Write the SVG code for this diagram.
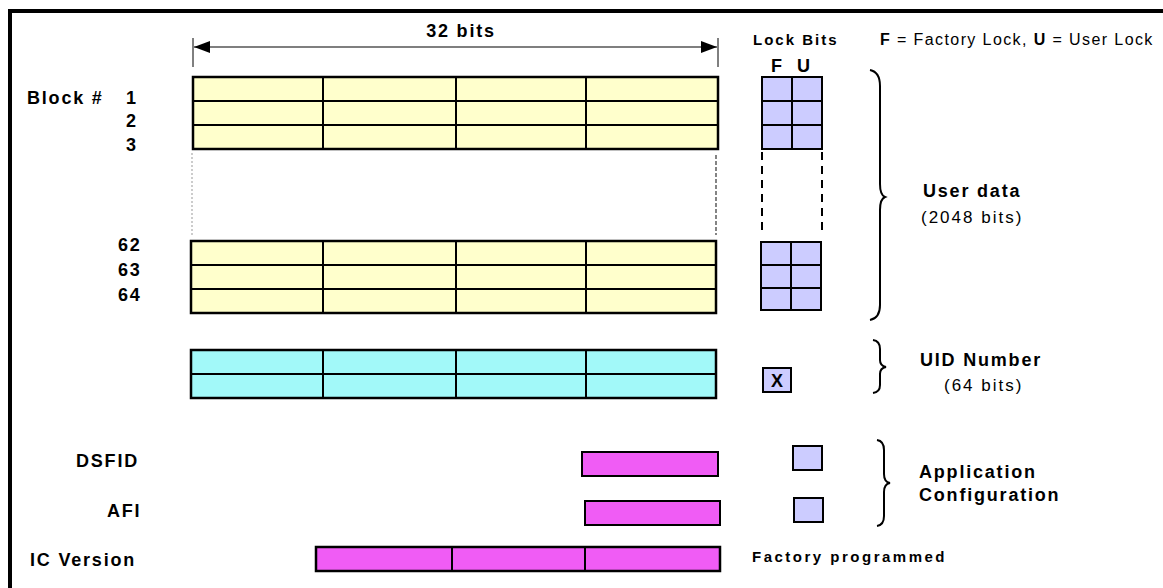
<svg xmlns="http://www.w3.org/2000/svg" width="1163" height="588" viewBox="0 0 1163 588">
<style>
text{font-family:"Liberation Sans",Arial,sans-serif;fill:#000}
.b{font-weight:bold;font-size:18px;letter-spacing:1.8px}
.bs{font-weight:bold;font-size:15px;letter-spacing:2px}
.n{font-size:17px;letter-spacing:2px}
.leg{font-size:16px;letter-spacing:1.4px}
.cell{stroke:#000;stroke-width:2}
.out{fill:none;stroke:#000;stroke-width:2.5}
.y{fill:#FFFFCC}
.c{fill:#A2F9F9}
.p{fill:#F05CF5}
.l{fill:#CCCCFF}
.brace{fill:none;stroke:#000;stroke-width:2}
.dash{stroke:#000;stroke-width:2;stroke-dasharray:8 6}
</style>
<defs>
<marker id="ah" viewBox="0 0 16 12" refX="16" refY="6" markerWidth="16" markerHeight="12" markerUnits="userSpaceOnUse" orient="auto-start-reverse">
<path d="M0,0 L16,6 L0,12 Z" fill="#000"/>
</marker>
</defs>
<rect width="1163" height="588" fill="#fff"/>
<g id="frame">
<line x1="10" y1="9" x2="10" y2="588" stroke="#000" stroke-width="4"/>
<line x1="8" y1="11" x2="1163" y2="11" stroke="#000" stroke-width="4"/>
</g>
<g id="connectors">
<line x1="193" y1="38" x2="193" y2="67" stroke="#000" stroke-width="1"/>
<line x1="718" y1="38" x2="718" y2="67" stroke="#000" stroke-width="1"/>
<line x1="194" y1="47" x2="717" y2="47" stroke="#000" stroke-width="1.2" marker-start="url(#ah)" marker-end="url(#ah)"/>
<line x1="192" y1="153" x2="192" y2="235" stroke="#999" stroke-width="1" stroke-dasharray="2 2"/>
<line x1="716" y1="155" x2="716" y2="235" stroke="#333" stroke-width="1.2" stroke-dasharray="4 2"/>
<line class="dash" x1="762" y1="152" x2="762" y2="232"/>
<line class="dash" x1="822" y1="152" x2="822" y2="232"/>
</g>
<g id="width-label"><text class="b" x="461" y="37" text-anchor="middle">32 bits</text></g>
<g id="lock-title"><text class="bs" x="753" y="45">Lock Bits</text></g>
<g id="legend"><text class="leg" x="880" y="45"><tspan font-weight="bold">F</tspan> = Factory Lock, <tspan font-weight="bold">U</tspan> = User Lock</text></g>
<g id="fu-labels"><text class="b" x="771" y="72">F</text><text class="b" x="797" y="72">U</text></g>
<g id="block-labels">
<text class="b" x="27" y="104">Block #</text>
<text class="b" x="126" y="104">1</text>
<text class="b" x="126" y="127">2</text>
<text class="b" x="126" y="151">3</text>
<text class="b" x="118" y="251">62</text>
<text class="b" x="118" y="276">63</text>
<text class="b" x="118" y="301">64</text>
</g>
<g id="user-blocks-top">
<g class="cell y">
<rect x="193" y="77" width="130" height="24"/><rect x="323" y="77" width="133" height="24"/><rect x="456" y="77" width="130" height="24"/><rect x="586" y="77" width="132" height="24"/>
<rect x="193" y="101" width="130" height="24"/><rect x="323" y="101" width="133" height="24"/><rect x="456" y="101" width="130" height="24"/><rect x="586" y="101" width="132" height="24"/>
<rect x="193" y="125" width="130" height="24"/><rect x="323" y="125" width="133" height="24"/><rect x="456" y="125" width="130" height="24"/><rect x="586" y="125" width="132" height="24"/>
</g>
<rect class="out" x="193" y="77" width="525" height="72"/>
</g>
<g id="user-blocks-bottom">
<g class="cell y">
<rect x="191" y="241" width="132" height="24"/><rect x="323" y="241" width="133" height="24"/><rect x="456" y="241" width="130" height="24"/><rect x="586" y="241" width="130" height="24"/>
<rect x="191" y="265" width="132" height="24"/><rect x="323" y="265" width="133" height="24"/><rect x="456" y="265" width="130" height="24"/><rect x="586" y="265" width="130" height="24"/>
<rect x="191" y="289" width="132" height="24"/><rect x="323" y="289" width="133" height="24"/><rect x="456" y="289" width="130" height="24"/><rect x="586" y="289" width="130" height="24"/>
</g>
<rect class="out" x="191" y="241" width="525" height="72"/>
</g>
<g id="uid-blocks">
<g class="cell c">
<rect x="191" y="350" width="132" height="24"/><rect x="323" y="350" width="133" height="24"/><rect x="456" y="350" width="130" height="24"/><rect x="586" y="350" width="130" height="24"/>
<rect x="191" y="374" width="132" height="24"/><rect x="323" y="374" width="133" height="24"/><rect x="456" y="374" width="130" height="24"/><rect x="586" y="374" width="130" height="24"/>
</g>
<rect class="out" x="191" y="350" width="525" height="48"/>
</g>
<g id="lock-top">
<g class="cell l">
<rect x="762" y="77" width="30" height="24"/><rect x="792" y="77" width="30" height="24"/>
<rect x="762" y="101" width="30" height="24"/><rect x="792" y="101" width="30" height="24"/>
<rect x="762" y="125" width="30" height="24"/><rect x="792" y="125" width="30" height="24"/>
</g>
</g>
<g id="lock-bottom">
<g class="cell l">
<rect x="761" y="242" width="30" height="23"/><rect x="791" y="242" width="30" height="23"/>
<rect x="761" y="265" width="30" height="23"/><rect x="791" y="265" width="30" height="23"/>
<rect x="761" y="288" width="30" height="22"/><rect x="791" y="288" width="30" height="22"/>
</g>
</g>
<g id="uid-lock">
<rect class="cell l" x="763" y="368" width="28" height="24"/>
<text class="b" x="777" y="387" text-anchor="middle" style="letter-spacing:0">X</text>
</g>
<g id="dsfid">
<text class="b" x="76" y="467">DSFID</text>
<rect class="cell p" x="582" y="452" width="136" height="24" stroke-width="2.5"/>
<rect class="cell l" x="793" y="446" width="29" height="24"/>
</g>
<g id="afi">
<text class="b" x="107" y="517">AFI</text>
<rect class="cell p" x="585" y="501" width="135" height="24" stroke-width="2.5"/>
<rect class="cell l" x="794" y="498" width="29" height="24"/>
</g>
<g id="ic-version">
<text class="b" x="30" y="566">IC Version</text>
<g class="cell p"><rect x="316" y="547" width="136" height="24"/><rect x="452" y="547" width="133" height="24"/><rect x="585" y="547" width="135" height="24"/></g>
<rect class="out" x="316" y="547" width="404" height="24"/>
<text class="bs" x="752" y="562" style="letter-spacing:2.5px">Factory programmed</text>
</g>
<g id="user-data-label">
<path class="brace" d="M870,70 Q880,72 880,86 L880,184 Q880,195 885,197 Q880,199 880,210 L880,305 Q880,318 870,320"/>
<text class="b" x="923" y="197">User data</text>
<text class="n" x="921" y="223">(2048 bits)</text>
</g>
<g id="uid-label">
<path class="brace" d="M873,340 Q880,341 880,349 L880,360 Q880,366 886,367 Q880,368 880,374 L880,385 Q880,392 873,393"/>
<text class="b" x="920" y="366">UID Number</text>
<text class="n" x="944" y="391">(64 bits)</text>
</g>
<g id="app-config-label">
<path class="brace" d="M877,440 Q884,441 884,450 L884,474 Q884,482 890,483 Q884,484 884,492 L884,516 Q884,525 877,526"/>
<text class="b" x="919" y="478">Application</text>
<text class="b" x="919" y="501">Configuration</text>
</g>
</svg>
